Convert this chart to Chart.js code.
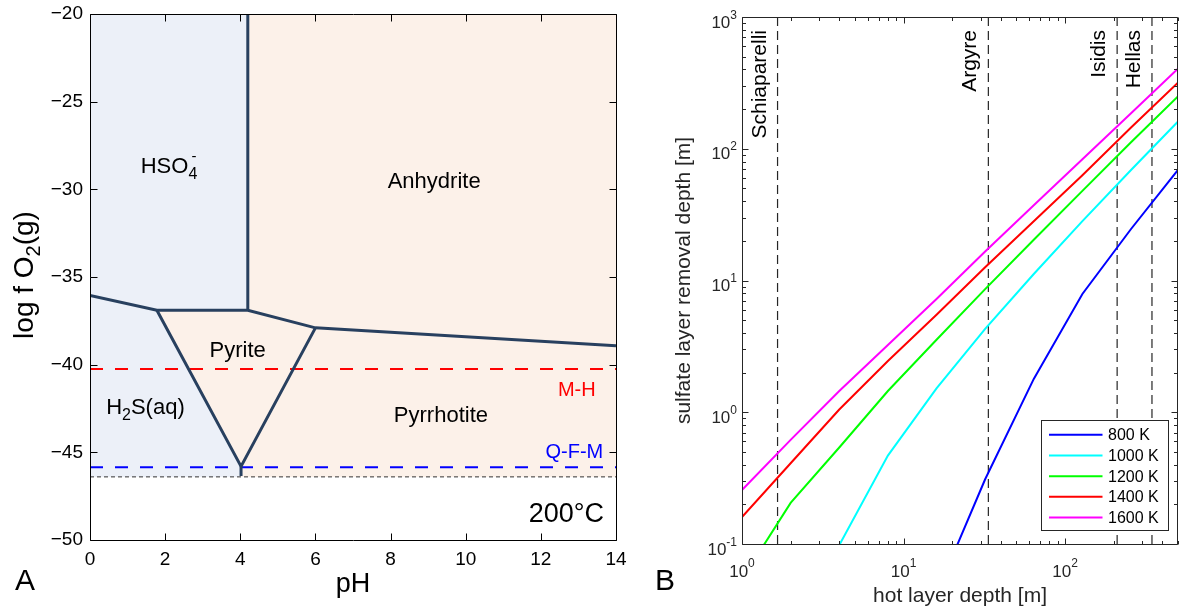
<!DOCTYPE html>
<html>
<head>
<meta charset="utf-8">
<script src="https://cdn.jsdelivr.net/npm/chart.js@4.4.1/dist/chart.umd.min.js"></script>
<style>
  body { margin: 0; background: #fff; }
  #wrap { position: relative; width: 1182px; height: 609px; }
  canvas { position: absolute; top: 0; }
</style>
</head>
<body>
<div id="wrap">
  <canvas id="phase" width="630" height="609" style="left:0"></canvas>
  <canvas id="removal" width="542" height="609" style="left:640px"></canvas>
</div>
<script>
const family = "'Liberation Sans', Arial, Helvetica, sans-serif";
Chart.defaults.font.family = family;

// ---------- panel A: sulfur phases at 200 °C ----------
const phTicks = [0, 2, 4, 6, 8, 10, 12, 14];
const logfo2Ticks = [-50, -45, -40, -35, -30, -25, -20];

// boundary vertices as [pH, log fO2]
const anhydriteEdge = [[4.2, -20], [4.2, -36.9]];
const upperEdge = [[0, -36.05], [1.78, -36.9], [4.2, -36.9], [6.0, -37.9], [14, -38.92]];
const pyriteEdge = [[1.78, -36.9], [4.02, -45.8], [6.0, -37.9]];
const pyriteTail = [[4.02, -45.8], [4.02, -46.35]];
const aqueousField = [[0, -20], [4.2, -20], [4.2, -36.9], [1.78, -36.9], [4.02, -45.8], [4.02, -46.4], [0, -46.4]];
const mineralField = [[4.2, -20], [14, -20], [14, -46.4], [4.02, -46.4], [4.02, -45.8], [1.78, -36.9], [4.2, -36.9]];
const bufferMH = -40.25;
const bufferQFM = -45.85;
const waterFloor = -46.4;

// ---------- panel B: sulfate removal vs hot layer depth ----------
const hotDepth = [1, 2, 4, 8, 16, 32, 64, 128, 256, 512];
const removal800 = [null, null, null, null, 0.042, 0.31, 1.79, 7.9, 24.6, 71.8];
const removal1000 = [null, null, 0.098, 0.469, 1.52, 4.3, 11.2, 28.2, 69, 166];
const removal1200 = [0.054, 0.205, 0.54, 1.45, 3.55, 8.6, 20.4, 47.9, 112, 257];
const removal1400 = [0.16, 0.41, 1.05, 2.45, 5.5, 12.6, 28.2, 63, 145, 327];
const removal1600 = [0.257, 0.617, 1.45, 3.24, 7.24, 16.6, 37.2, 83.2, 186, 417];
const tempLabels = ['800 K', '1000 K', '1200 K', '1400 K', '1600 K'];
const craterNames = ['Schiaparelli', 'Argyre', 'Isidis', 'Hellas'];
const craterDepths = [1.66, 33.5, 210, 345];
const depthDecades = [1, 10, 100];
const removalDecades = [0.1, 1, 10, 100, 1000];

const pts = arr => arr.map(([x, y]) => ({x, y}));

// text with sub/superscripts: runs are [text, size, rise, overlay]
function richText(ctx, runs, x, y, align) {
  let total = 0;
  const widths = runs.map(([t, size, , overlay]) => {
    ctx.font = `${size}px ${family}`;
    const w = ctx.measureText(t).width;
    if (!overlay) total += w;
    return w;
  });
  let cx = align === 'center' ? x - total / 2 : align === 'right' ? x - total : x;
  ctx.textAlign = 'left';
  ctx.textBaseline = 'alphabetic';
  runs.forEach(([t, size, rise, overlay], i) => {
    ctx.font = `${size}px ${family}`;
    ctx.fillText(t, cx + (overlay ? 3 : 0), y + (rise || 0));
    if (!overlay) cx += widths[i];
  });
}

function edge(points) {
  return { data: pts(points), borderColor: '#28405f', borderWidth: 3, fill: false, pointRadius: 0, borderJoinStyle: 'miter' };
}
function buffer(level, color, dash, width) {
  return { data: [{x: 0, y: level}, {x: 14, y: level}], borderColor: color, borderWidth: width, borderDash: dash, fill: false, pointRadius: 0 };
}
function field(points, color) {
  return { data: pts(points), borderColor: 'rgba(0,0,0,0)', borderWidth: 1, backgroundColor: color, fill: 'shape', pointRadius: 0 };
}

// keep the plot box fixed: no extra room reserved for overhanging end labels
function fixedSize(prop, size) {
  return s => {
    s[prop] = size;
    s.paddingLeft = s.paddingRight = s.paddingTop = s.paddingBottom = 0;
  };
}

const phaseDecor = {
  id: 'phaseDecor',
  afterDraw(chart) {
    const {ctx, chartArea: a, scales: {x, y}} = chart;
    ctx.save();
    ctx.strokeStyle = '#000';
    ctx.lineWidth = 1;
    const L = Math.round(a.left) + 0.5, R = Math.round(a.right) + 0.5;
    const T = Math.round(a.top) + 0.5, B = Math.round(a.bottom) + 0.5;
    ctx.beginPath();
    ctx.rect(L, T, R - L, B - T);
    phTicks.forEach(v => {
      const px = Math.round(x.getPixelForValue(v)) + 0.5;
      ctx.moveTo(px, B); ctx.lineTo(px, B - 7);
      ctx.moveTo(px, T); ctx.lineTo(px, T + 7);
    });
    logfo2Ticks.forEach(v => {
      const py = Math.round(y.getPixelForValue(v)) + 0.5;
      ctx.moveTo(L, py); ctx.lineTo(L + 7, py);
      ctx.moveTo(R, py); ctx.lineTo(R - 7, py);
    });
    ctx.stroke();

    const labels = [
      { runs: [['HSO', 22, 0], ['-', 15, -12, true], ['4', 16, 6]], at: [1.35, -29.09], align: 'left' },
      { runs: [['Anhydrite', 22, 0]], at: [9.16, -29.93], align: 'center' },
      { runs: [['Pyrite', 22, 0]], at: [3.93, -39.55], align: 'center' },
      { runs: [['H', 22, 0], ['2', 16, 6], ['S(aq)', 22, 0]], at: [0.43, -42.82], align: 'left' },
      { runs: [['Pyrrhotite', 22, 0]], at: [9.34, -43.26], align: 'center' },
      { runs: [['M-H', 20, 0]], at: [13.46, -41.79], align: 'right', color: '#ff0000' },
      { runs: [['Q-F-M', 20, 0]], at: [13.66, -45.35], align: 'right', color: '#0000ff' },
      { runs: [['200°C', 27, 0]], at: [13.68, -49.0], align: 'right' }
    ];
    labels.forEach(l => {
      ctx.fillStyle = l.color || '#000';
      richText(ctx, l.runs, x.getPixelForValue(l.at[0]), y.getPixelForValue(l.at[1]), l.align);
    });

    ctx.fillStyle = '#000';
    richText(ctx, [['pH', 27, 0]], (a.left + a.right) / 2, 592, 'center');
    ctx.save();
    ctx.translate(33, (a.top + a.bottom) / 2 - 2);
    ctx.rotate(-Math.PI / 2);
    richText(ctx, [['log f O', 28, 0], ['2', 20, 7], ['(g)', 28, 0]], 0, 0, 'center');
    ctx.restore();
    richText(ctx, [['A', 30, 0]], 15, 590, 'left');
    ctx.restore();
  }
};

new Chart(document.getElementById('phase'), {
  type: 'line',
  data: {
    datasets: [
      edge(anhydriteEdge), edge(upperEdge), edge(pyriteEdge), edge(pyriteTail),
      buffer(bufferMH, '#ff0000', [13, 12], 2),
      buffer(bufferQFM, '#0000ff', [13, 12], 2),
      buffer(waterFloor, '#333333', [4, 3], 1),
      field(aqueousField, '#ecf0f8'),
      field(mineralField, '#fcf1e9')
    ]
  },
  options: {
    responsive: false,
    animation: false,
    layout: { padding: { top: 14, right: 14, left: 0, bottom: 0 } },
    plugins: { legend: { display: false }, tooltip: { enabled: false } },
    scales: {
      x: {
        type: 'linear', min: 0, max: 14,
        grid: { display: false, drawTicks: false }, border: { display: false },
        ticks: { stepSize: 2, padding: 8, color: '#000', font: { size: 19 }, maxRotation: 0, autoSkip: false },
        afterFit: fixedSize('height', 69)
      },
      y: {
        type: 'linear', min: -50, max: -20,
        grid: { display: false, drawTicks: false }, border: { display: false },
        ticks: { stepSize: 5, padding: 7, color: '#000', font: { size: 19 }, callback: v => String(v).replace('-', '\u2212') },
        afterFit: fixedSize('width', 90)
      }
    }
  },
  plugins: [phaseDecor]
});

// ---------- panel B drawing ----------
const seriesColors = ['#0000ff', '#00ffff', '#00ff00', '#ff0000', '#ff00ff'];
const removalSeries = [removal800, removal1000, removal1200, removal1400, removal1600];

const removalDecor = {
  id: 'removalDecor',
  afterDraw(chart) {
    const {ctx, chartArea: a, scales: {x, y}} = chart;
    const ink = '#262626';
    ctx.save();
    ctx.strokeStyle = ink;
    ctx.fillStyle = ink;
    ctx.lineWidth = 1;
    const L = Math.round(a.left) + 0.5, R = Math.round(a.right) - 0.5;
    const T = Math.round(a.top) + 0.5, B = Math.round(a.bottom) + 0.5;
    ctx.beginPath();
    ctx.rect(L, T, R - L, B - T);
    depthDecades.forEach(d => {
      for (let m = 1; m <= 9; m++) {
        const v = d * m;
        if (v > x.max) break;
        const px = Math.round(x.getPixelForValue(v)) + 0.5;
        const len = m === 1 ? 6 : 3.5;
        ctx.moveTo(px, B); ctx.lineTo(px, B - len);
        ctx.moveTo(px, T); ctx.lineTo(px, T + len);
      }
    });
    removalDecades.forEach(d => {
      for (let m = 1; m <= 9; m++) {
        const v = d * m;
        if (v > y.max) break;
        const py = Math.round(y.getPixelForValue(v)) + 0.5;
        const len = m === 1 ? 6 : 3.5;
        ctx.moveTo(L, py); ctx.lineTo(L + len, py);
        ctx.moveTo(R, py); ctx.lineTo(R - len, py);
      }
    });
    ctx.stroke();

    // power-of-ten tick labels
    const expText = v => String(Math.round(Math.log10(v)));
    ctx.textBaseline = 'alphabetic';
    removalDecades.forEach(v => {
      const py = y.getPixelForValue(v);
      ctx.textAlign = 'right';
      ctx.font = `12px ${family}`;
      const e = expText(v);
      const ew = ctx.measureText(e).width;
      ctx.fillText(e, a.left - 5, py + 1.7);
      ctx.font = `17px ${family}`;
      ctx.fillText('10', a.left - 5 - ew, py + 10.5);
    });
    depthDecades.forEach(v => {
      const px = x.getPixelForValue(v);
      const e = expText(v);
      ctx.font = `17px ${family}`;
      const bw = ctx.measureText('10').width;
      ctx.font = `12px ${family}`;
      const ew = ctx.measureText(e).width;
      const x0 = px - (bw + ew) / 2;
      ctx.textAlign = 'left';
      ctx.font = `17px ${family}`;
      ctx.fillText('10', x0, a.bottom + 33);
      ctx.font = `12px ${family}`;
      ctx.fillText(e, x0 + bw, a.bottom + 23);
    });

    // crater names beside their dashed lines
    ctx.fillStyle = '#000';
    ctx.font = `21px ${family}`;
    craterDepths.forEach((d, i) => {
      ctx.save();
      ctx.translate(x.getPixelForValue(d) - 12, a.top + 13);
      ctx.rotate(-Math.PI / 2);
      ctx.textAlign = 'right';
      ctx.fillText(craterNames[i], 0, 0);
      ctx.restore();
    });

    // axis titles
    ctx.fillStyle = ink;
    ctx.font = `21px ${family}`;
    ctx.textAlign = 'center';
    ctx.fillText('hot layer depth [m]', (a.left + a.right) / 2, 602);
    ctx.save();
    ctx.translate(50, (a.top + a.bottom) / 2);
    ctx.rotate(-Math.PI / 2);
    ctx.fillText('sulfate layer removal depth [m]', 0, 0);
    ctx.restore();

    // legend box
    const bw = 127, bh = 110;
    const bx = Math.round(a.right - 10 - bw) + 0.5, by = Math.round(a.bottom - 14 - bh) + 0.5;
    ctx.fillStyle = '#fff';
    ctx.fillRect(bx, by, bw, bh);
    ctx.strokeStyle = ink;
    ctx.lineWidth = 1;
    ctx.strokeRect(bx, by, bw, bh);
    ctx.font = `16px ${family}`;
    ctx.textAlign = 'left';
    ctx.textBaseline = 'middle';
    tempLabels.forEach((t, i) => {
      const ry = by + 14.3 + i * 20.67;
      ctx.strokeStyle = seriesColors[i];
      ctx.lineWidth = 2;
      ctx.beginPath();
      ctx.moveTo(bx + 7.5, ry);
      ctx.lineTo(bx + 61, ry);
      ctx.stroke();
      ctx.fillStyle = '#000';
      ctx.fillText(t, bx + 66.5, ry + 1);
    });

    ctx.fillStyle = '#000';
    ctx.textBaseline = 'alphabetic';
    ctx.font = `30px ${family}`;
    ctx.fillText('B', 15, 590);
    ctx.restore();
  }
};

const seriesSets = removalSeries.map((vals, i) => ({
  label: tempLabels[i],
  data: hotDepth.map((d, j) => ({x: d, y: vals[j]})),
  borderColor: seriesColors[i],
  borderWidth: 2,
  pointRadius: 0,
  fill: false
}));
const craterSets = craterDepths.map((d, i) => ({
  label: craterNames[i],
  data: [{x: d, y: 0.1}, {x: d, y: 1000}],
  borderColor: '#262626',
  borderWidth: 1.2,
  borderDash: [9, 5],
  pointRadius: 0,
  fill: false
}));

new Chart(document.getElementById('removal'), {
  type: 'line',
  data: { datasets: [...seriesSets, ...craterSets] },
  options: {
    responsive: false,
    animation: false,
    layout: { padding: { top: 17, right: 4, left: 0, bottom: 0 } },
    plugins: { legend: { display: false }, tooltip: { enabled: false } },
    scales: {
      x: {
        type: 'logarithmic', min: 1, max: 500,
        grid: { display: false, drawTicks: false }, border: { display: false },
        ticks: { display: false },
        afterFit: fixedSize('height', 65)
      },
      y: {
        type: 'logarithmic', min: 0.1, max: 1000,
        grid: { display: false, drawTicks: false }, border: { display: false },
        ticks: { display: false },
        afterFit: fixedSize('width', 102)
      }
    }
  },
  plugins: [removalDecor]
});
</script>
</body>
</html>
